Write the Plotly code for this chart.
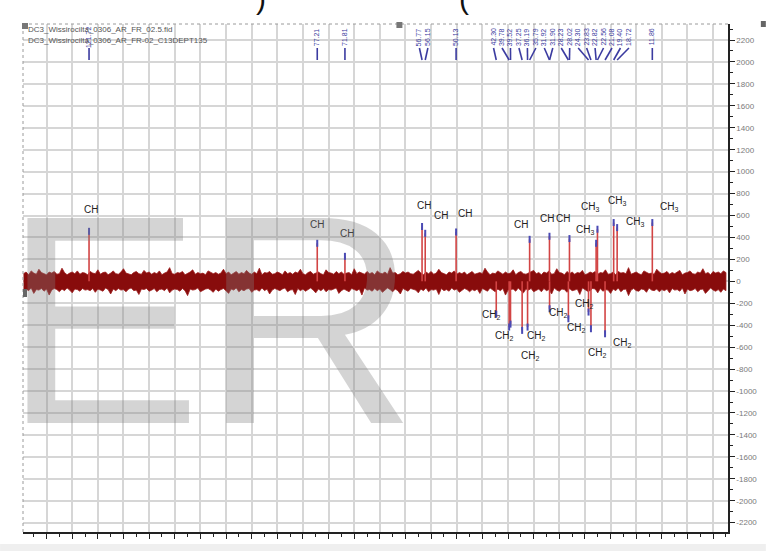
import numpy as np
import plotly.graph_objects as go

# ---------------- data ----------------
peak_ppm = [121.72, 77.21, 71.81, 56.77, 56.15, 50.13, 42.30, 39.78, 39.52, 37.25,
            36.19, 35.79, 31.92, 31.90, 28.23, 28.02, 24.30, 23.83, 22.82, 22.56,
            21.08, 19.40, 18.72, 11.86]
peak_int = [456, 347, 228, 500, 438, 450, -300, -417, -390, -447,
            -417, 383, 411, -250, -341, 390, -280, -432, 347, 475,
            -478, 536, 490, 536]
peak_type = ["CH", "CH", "CH", "CH", "CH", "CH", "CH2", "CH2", "CH2", "CH2",
             "CH2", "CH", "CH", "CH2", "CH2", "CH", "CH2", "CH2", "CH3", "CH3",
             "CH2", "CH3", "CH3", "CH3"]
peak_label_text = ["121.72", "77.21", "71.81", "56.77", "56.15", "50.13", "42.30", "39.78",
                   "39.52", "37.25", "36.19", "35.79", "31.92", "31.90", "28.23", "28.02",
                   "24.30", "23.83", "22.82", "22.56", "21.08", "19.40", "18.72", "11.86"]

# baseline noise envelope (0.5 ppm steps, 134.5 -> -2.5 ppm)
noise_upper = [
    70, 85, 60, 95, 75, 65, 110, 80, 70, 60, 85, 75, 90, 65, 70, 120, 80, 60, 75, 85, 70, 95, 65, 80, 75,
    60, 90, 75, 70, 105, 65, 80, 85, 60, 75, 95, 70, 65, 85, 115, 75, 70, 60, 80, 90, 70, 65, 100, 75, 85,
    65, 80, 70, 95, 60, 75, 85, 125, 70, 65, 80, 75, 90, 60, 70, 85, 105, 65, 80, 70, 75, 60, 95, 85, 70,
    80, 65, 75, 110, 70, 85, 60, 75, 90, 65, 80, 70, 100, 75, 65, 85, 70, 120, 60, 80, 75, 90, 65, 70, 85,
    75, 60, 95, 70, 80, 65, 85, 75, 110, 70, 60, 80, 90, 65, 75, 85, 70, 60, 105, 80, 75, 65, 90, 70, 85,
    65, 75, 80, 60, 115, 70, 85, 75, 65, 90, 70, 80, 60, 95, 75, 70, 85, 65, 125, 75, 80, 60, 70, 90, 75,
    85, 70, 65, 80, 100, 75, 60, 85, 70, 90, 65, 75, 110, 80, 70, 60, 85, 75, 95, 65, 80, 70, 85, 60, 75,
    90, 65, 75, 80, 70, 120, 85, 60, 75, 70, 95, 80, 65, 85, 70, 75, 105, 60, 80, 90, 70, 65, 75, 85, 100,
    70, 80, 60, 85, 75, 95, 65, 70, 115, 80, 75, 60, 90, 70, 85, 65, 80, 75, 100, 60, 70, 85, 75, 90, 65,
    80, 75, 105, 65, 70, 85, 60, 90, 75, 80, 70, 125, 65, 75, 85, 70, 60, 95, 80, 70, 75, 65, 110, 85, 70,
    75, 90, 65, 80, 70, 85, 100, 60, 75, 80, 95, 70, 65, 85, 75, 115, 70, 80, 60, 90, 75, 85, 70, 95, 80]
noise_lower = [
    -95, -70, -85, -60, -110, -75, -80, -65, -90, -70, -125, -80, -65, -75, -95, -70, -85, -60, -80, -105, -70, -75, -90, -65, -80,
    -75, -85, -65, -100, -70, -80, -90, -60, -75, -115, -70, -85, -65, -80, -75, -95, -70, -60, -85, -80, -120, -70, -75, -65, -90,
    -80, -65, -95, -75, -70, -85, -60, -105, -80, -70, -75, -90, -65, -85, -130, -70, -80, -75, -60, -95, -85, -70, -65, -80, -100,
    -70, -90, -75, -65, -85, -110, -70, -80, -60, -95, -75, -85, -70, -65, -100, -80, -75, -90, -60, -85, -70, -115, -80, -65, -75,
    -85, -70, -60, -95, -80, -75, -120, -65, -85, -70, -90, -75, -60, -80, -105, -70, -85, -65, -95, -75, -80, -70, -60, -110, -85,
    -70, -80, -95, -65, -75, -85, -70, -125, -60, -80, -75, -90, -65, -85, -70, -100, -80, -60, -75, -95, -70, -85, -115, -65, -80,
    -90, -65, -75, -80, -105, -70, -85, -60, -95, -75, -80, -70, -120, -65, -85, -75, -90, -60, -80, -70, -100, -85, -65, -75, -95,
    -75, -85, -70, -110, -65, -80, -90, -60, -75, -95, -70, -85, -65, -125, -80, -75, -70, -90, -60, -85, -105, -70, -80, -65, -95,
    -80, -70, -95, -65, -85, -75, -115, -60, -80, -90, -70, -75, -100, -65, -85, -80, -70, -120, -60, -75, -90, -85, -65, -70, -105,
    -65, -90, -75, -80, -110, -70, -85, -60, -95, -75, -70, -130, -80, -65, -85, -90, -70, -75, -100, -60, -80, -85, -70, -95, -75,
    -85, -70, -105, -65, -80, -75, -90, -60, -115, -70, -85, -80, -65, -95, -75, -70, -110, -85, -60, -80, -90, -75, -100, -70, -85]
noise_ppm = list(np.linspace(134.5, -2.5, len(noise_upper)))

y_tick_vals = list(range(-2200, 2201, 200))
y_tick_text = [str(v) for v in y_tick_vals]

header_lines = ["DC3_Wissirocilta_0306_AR_FR_02.5.fid",
                "DC3_Wissirocilta_0306_AR_FR-02_C13DEPT135"]

# ---------------- style ----------------
# pixel offsets of DEPT labels relative to peak tips (dx, dy down-positive); None = hidden
label_offsets = [(2, -22), (0, -19), (2, -23), (2, -21), (16, -18), (9, -18), (-5, 1), (-5, 9),
                 None, (8, 26), (8, 9), (-9, -15), (-2, -18), (8, 4), (8, 9), (-6, -20),
                 (-5, -8), (6, 24), (-11, -13), (-7, -22), (17, 9), (3, -22), (18, -6), (17, -16)]

X_RANGE = [134.6, -2.9]
Y_RANGE = [-2285, 2346]
W, H = 769, 551
ML, MR, MT, MB = 23, 38, 24, 19
PW, PH = W - ML - MR, H - MT - MB


def px_to_paper_x(px):
    return (px - ML) / PW


def px_to_paper_y(py):
    return (H - MB - py) / PH


fig = go.Figure()

# noise band (filled between the envelopes)
fig.add_trace(go.Scatter(
    x=noise_ppm + noise_ppm[::-1],
    y=noise_upper + noise_lower[::-1],
    fill="toself", fillcolor="#880c0c",
    line=dict(color="#9c1a1a", width=0.8),
    mode="lines", hoverinfo="skip"))

# peaks
px, py = [], []
for p, v in zip(peak_ppm, peak_int):
    px += [p, p, None]
    py += [0, v, None]
fig.add_trace(go.Scatter(x=px, y=py, mode="lines",
                         line=dict(color="#d24444", width=1.6), hoverinfo="skip"))
fig.add_trace(go.Scatter(x=peak_ppm, y=peak_int, mode="markers",
                         marker=dict(symbol="line-ns", size=5,
                                     line=dict(width=2, color="#4a4ab4")),
                         hoverinfo="skip"))

annotations = []
shapes = []

# DEPT labels
for p, v, t, off in zip(peak_ppm, peak_int, peak_type, label_offsets):
    if off is None:
        continue
    txt = "CH" if t == "CH" else "CH<sub>%s</sub>" % t[-1]
    annotations.append(dict(x=p, y=v, xref="x", yref="y", text=txt, showarrow=False,
                            xshift=off[0], yshift=-off[1],
                            font=dict(family="Liberation Sans, Arial", size=10, color="#222222")))

# spread top ppm labels
order = sorted(range(len(peak_ppm)), key=lambda i: -peak_ppm[i])
sep = 1.65
clusters = [[i] for i in order]
changed = True
while changed:
    changed = False
    pos = {}
    for c in clusters:
        center = np.mean([peak_ppm[i] for i in c])
        n = len(c)
        for k, i in enumerate(c):
            pos[i] = center + sep * ((n - 1) / 2 - k)
    merged = [clusters[0]]
    for c in clusters[1:]:
        prev = merged[-1]
        if pos[prev[-1]] - pos[c[0]] < sep - 1e-9:
            merged[-1] = prev + c
            changed = True
        else:
            merged.append(c)
    clusters = merged

lab_y = px_to_paper_y(37)
con_top = px_to_paper_y(48)
con_bot = px_to_paper_y(60)
for i in order:
    annotations.append(dict(x=pos[i], y=lab_y, xref="x", yref="paper", text=peak_label_text[i],
                            showarrow=False, textangle=-90, xanchor="center", yanchor="middle",
                            font=dict(family="Liberation Sans, Arial", size=7, color="#3b3ba0")))
    shapes.append(dict(type="line", xref="x", yref="paper", x0=pos[i], x1=peak_ppm[i],
                       y0=con_top, y1=con_bot, line=dict(color="#3b3ba0", width=1.6)))

# header
for k, line in enumerate(header_lines):
    annotations.append(dict(x=px_to_paper_x(26), y=px_to_paper_y(30 + 10 * k), xref="paper", yref="paper",
                            xanchor="left", yanchor="middle", text=line, showarrow=False,
                            font=dict(family="Liberation Sans, Arial", size=8, color="#555555")))

# watermark
annotations.append(dict(x=px_to_paper_x(1), y=px_to_paper_y(319), xref="paper", yref="paper",
                        xanchor="left", yanchor="middle", text="ER", showarrow=False,
                        font=dict(family="Liberation Sans, Arial", size=298, color="rgba(128,128,128,0.34)")))

# cut-off title fragments at the very top
for xp, ch in [(262, ")"), (466, "(")]:
    annotations.append(dict(x=px_to_paper_x(xp), y=px_to_paper_y(17), xref="paper", yref="paper",
                            xanchor="center", yanchor="bottom", text=ch, showarrow=False,
                            font=dict(family="Liberation Sans, Arial", size=30, color="#111111")))

# dotted top / left borders
shapes.append(dict(type="line", xref="paper", yref="paper", x0=0, x1=1, y0=1, y1=1,
                   line=dict(color="#9a9a9a", width=1, dash="dot")))
shapes.append(dict(type="line", xref="paper", yref="paper", x0=0, x1=0, y0=0, y1=1,
                   line=dict(color="#9a9a9a", width=1, dash="dot")))
# small grey squares
for (x0, y0, x1, y1, col) in [(22, 23, 28, 29, "#777777"), (398, 22, 404, 28, "#777777"),
                              (23, 289, 27, 297, "#666666"), (764, 21, 769, 27, "#666666")]:
    shapes.append(dict(type="rect", xref="paper", yref="paper",
                       x0=px_to_paper_x(x0), x1=px_to_paper_x(x1),
                       y0=px_to_paper_y(y1), y1=px_to_paper_y(y0),
                       fillcolor=col, line=dict(width=0)))
# bottom grey band
shapes.append(dict(type="rect", xref="paper", yref="paper",
                   x0=px_to_paper_x(0), x1=px_to_paper_x(W), y0=px_to_paper_y(H), y1=px_to_paper_y(544),
                   fillcolor="#efefef", line=dict(width=0), layer="below"))

fig.update_layout(
    width=W, height=H,
    margin=dict(l=ML, r=MR, t=MT, b=MB, pad=0),
    paper_bgcolor="white", plot_bgcolor="white",
    showlegend=False,
    annotations=annotations, shapes=shapes,
    xaxis=dict(range=X_RANGE, dtick=5, tick0=0, showgrid=True, gridcolor="#d6d6d6", gridwidth=1.5,
               zeroline=False, showline=True, linecolor="#222222", linewidth=2,
               ticks="outside", ticklen=5, tickwidth=1.2, tickcolor="#222222",
               showticklabels=False,
               minor=dict(dtick=2.5, tick0=0, ticks="outside", ticklen=3, tickcolor="#222222", showgrid=False)),
    yaxis=dict(range=Y_RANGE, side="right", tickvals=y_tick_vals, ticktext=y_tick_text,
               showgrid=True, gridcolor="#d6d6d6", gridwidth=1.5, zeroline=False,
               showline=True, linecolor="#222222", linewidth=1.5,
               ticks="outside", ticklen=5, tickwidth=1.2, tickcolor="#222222",
               tickfont=dict(family="Liberation Sans, Arial", size=8, color="#7a7a7a"),
               minor=dict(dtick=100, tick0=0, ticks="outside", ticklen=3, tickcolor="#222222", showgrid=False)),
)

fig.write_html("out.html", config={"displayModeBar": False},
               post_script="document.body.style.margin='0';document.body.style.padding='0';")
